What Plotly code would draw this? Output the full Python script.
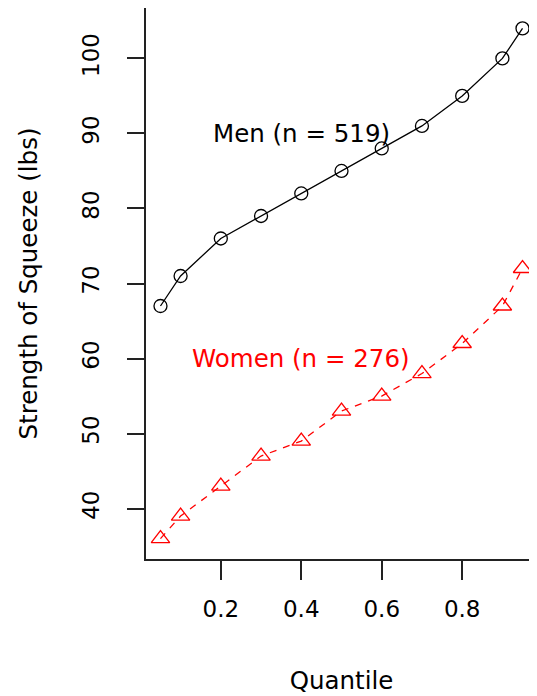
import plotly.graph_objects as go

quantiles = [0.05, 0.1, 0.2, 0.3, 0.4, 0.5, 0.6, 0.7, 0.8, 0.9, 0.95]
men = [67, 71, 76, 79, 82, 85, 88, 91, 95, 100, 104]
women = [36, 39, 43, 47, 49, 53, 55, 58, 62, 67, 72]
x_ticks = [0.2, 0.4, 0.6, 0.8]
y_ticks = [40, 50, 60, 70, 80, 90, 100]
men_label = "Men (n = 519)"
women_label = "Women (n = 276)"

FONT = "DejaVu Sans, Arial, sans-serif"
FS = 24.5
TFS = 23

fig = go.Figure()
fig.add_trace(go.Scatter(
    x=quantiles, y=men, mode="lines+markers", name=men_label,
    line=dict(color="black", width=1.3),
    marker=dict(symbol="circle-open", size=13, color="black", line=dict(width=1.3)),
))
fig.add_trace(go.Scatter(
    x=quantiles, y=women, mode="lines+markers", name=women_label,
    line=dict(color="#ff0000", width=1.3, dash="7px,7px"),
    marker=dict(symbol="triangle-up-open", size=16, color="#ff0000", line=dict(width=1.3)),
))

fig.add_annotation(x=0.4, y=90, text=men_label, showarrow=False,
                   font=dict(family=FONT, size=FS, color="black"))
fig.add_annotation(x=0.4, y=60, text=women_label, showarrow=False,
                   font=dict(family=FONT, size=FS, color="#ff0000"))

# page body has an 8px margin; figure is sized so the plot box lands where the reference has it
fig.update_layout(
    width=529, height=688,
    margin=dict(l=138, r=0, t=0, b=137),
    paper_bgcolor="white", plot_bgcolor="white",
    showlegend=False,
    font=dict(family=FONT, size=FS, color="black"),
)
fig.update_xaxes(
    range=[0.014, 0.986], tickvals=x_ticks, ticktext=[f"{v:.1f}" for v in x_ticks],
    tickfont=dict(size=TFS),
    showgrid=False, zeroline=False,
    showline=True, linecolor="#222", linewidth=1.5, mirror=True,
    ticks="outside", ticklen=19, tickwidth=1.5, tickcolor="#222",
    ticklabelstandoff=10,
    title=dict(text="Quantile", standoff=51, font=dict(size=FS)),
    automargin=False,
)
fig.update_yaxes(
    range=[33.28, 106.72], tickvals=y_ticks,
    tickfont=dict(size=TFS),
    showgrid=False, zeroline=False,
    showline=True, linecolor="#222", linewidth=1.5, mirror=False,
    ticks="outside", ticklen=17, tickwidth=1.5, tickcolor="#222",
    tickangle=-90, ticklabelstandoff=19,
    title=dict(text="Strength of Squeeze (lbs)", standoff=33, font=dict(size=FS)),
    automargin=False,
)

fig.write_html("out.html")
